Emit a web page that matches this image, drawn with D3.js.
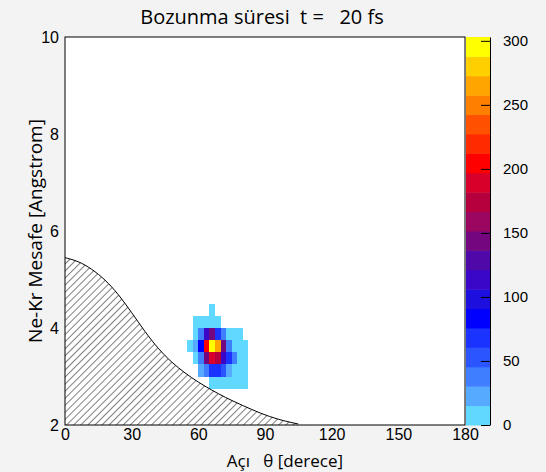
<!DOCTYPE html>
<html><head><meta charset="utf-8">
<script src="https://cdn.jsdelivr.net/npm/d3@7"></script>
<style>body{margin:0;background:#f3f3f3}text{font-family:"Liberation Sans",Arial,sans-serif;white-space:pre}</style>
</head><body><svg width="546" height="472"></svg>
<script>
const svg = d3.select('svg');
const W = 546, H = 472;
const margin = {top: 37, right: 81, bottom: 47, left: 65};
const innerWidth = W - margin.left - margin.right;
const innerHeight = H - margin.top - margin.bottom;

// histogram bins: 2.5 deg x 0.25 A
const xBinStart = 55, xBinW = 2.5;
const yBinTops = [4.5, 4.25, 4.0, 3.75, 3.5, 3.25, 3.0];
const yBinH = 0.25;
const counts = [
  [0, 0, 0, 0, 8, 0, 0, 0, 0, 0, 0],
  [0, 8, 8, 8, 8, 8, 0, 0, 0, 0, 0],
  [0, 8, 38, 113, 150, 68, 38, 8, 8, 8, 0],
  [8, 22, 83, 205, 300, 265, 150, 38, 8, 8, 8],
  [0, 8, 38, 150, 190, 180, 113, 68, 38, 8, 8],
  [0, 0, 22, 38, 68, 68, 53, 22, 8, 8, 8],
  [0, 0, 0, 0, 8, 8, 8, 8, 8, 8, 8]
];
// forbidden-region boundary
const edgeX = [0, 6, 12, 18, 24, 30, 36, 42, 48, 54, 60, 66, 72, 80, 88, 96, 105];
const edgeY = [5.45, 5.38, 5.22, 5.0, 4.7, 4.32, 3.92, 3.57, 3.29, 3.07, 2.88, 2.72, 2.57, 2.4, 2.24, 2.11, 2.02];
const palette = ['#61d8ff','#56aaff','#3f7fff','#2a55ff','#1a33ff','#0000ff','#1d0fdd','#3a06c8','#4f09a8','#74077f',
  '#9b0660','#b5003d','#d8002a','#ff0000','#ff2a00','#ff5100','#ff7f00','#ffa500','#ffcf00','#ffff00'];
const zMax = 303;
const zTicks = [0, 50, 100, 150, 200, 250, 300];
const xTicks = [0, 30, 60, 90, 120, 150, 180];
const yTicks = [2, 4, 6, 8, 10];

const x = d3.scaleLinear().domain([0, 180]).range([0, innerWidth]);
const y = d3.scaleLinear().domain([2, 10]).range([innerHeight, 0]);
const z = d3.scaleQuantize().domain([0, zMax]).range(palette);

const defs = svg.append('defs');
defs.append('pattern').attr('id', 'hatch').attr('patternUnits', 'userSpaceOnUse')
  .attr('width', 5).attr('height', 5).attr('patternTransform', 'rotate(45)')
  .append('line').attr('x1', 0).attr('y1', 0).attr('x2', 0).attr('y2', 5)
  .attr('stroke', '#000').attr('stroke-width', 1);

const g = svg.append('g').attr('transform', `translate(${margin.left},${margin.top})`);
g.append('rect').attr('width', innerWidth).attr('height', innerHeight).attr('fill', '#fff');

const cells = [];
counts.forEach((row, r) => row.forEach((v, c) => { if (v > 0) cells.push({r, c, v}); }));
g.selectAll('rect.cell').data(cells).enter().append('rect')
  .attr('x', d => x(xBinStart + d.c * xBinW))
  .attr('y', d => y(yBinTops[d.r]))
  .attr('width', x(xBinW) - x(0))
  .attr('height', y(0) - y(yBinH))
  .attr('fill', d => z(d.v))
  .attr('shape-rendering', 'crispEdges');

const pts = edgeX.map((v, i) => [v, edgeY[i]]);
const area = d3.area().x(d => x(d[0])).y0(y(2)).y1(d => y(d[1])).curve(d3.curveBasis);
g.append('path').datum(pts).attr('d', area).attr('fill', 'url(#hatch)');
g.append('path').datum(pts).attr('d', d3.line().x(d => x(d[0])).y(d => y(d[1])).curve(d3.curveBasis))
  .attr('fill', 'none').attr('stroke', '#000').attr('stroke-width', 1);

g.append('rect').attr('width', innerWidth).attr('height', innerHeight)
  .attr('fill', 'none').attr('stroke', '#000');

const xAxisG = g.append('g').attr('transform', `translate(0,${innerHeight})`)
  .call(d3.axisBottom(x).tickValues(xTicks).tickSize(0).tickPadding(4));
const yAxisG = g.append('g')
  .call(d3.axisLeft(y).tickValues(yTicks).tickSize(0).tickPadding(6));
[xAxisG, yAxisG].forEach(a => {
  a.select('.domain').remove();
  a.selectAll('text').attr('font-size', 16).attr('fill', '#000');
});

// colour bar
const cb = svg.append('g').attr('transform', `translate(${margin.left + innerWidth + 1},${margin.top})`);
const zs = d3.scaleLinear().domain([0, zMax]).range([innerHeight, 0]);
const step = zMax / palette.length;
cb.selectAll('rect').data(palette).enter().append('rect')
  .attr('x', 0).attr('width', 24)
  .attr('y', (d, i) => zs((i + 1) * step)).attr('height', zs(0) - zs(step) + 0.5)
  .attr('fill', d => d);
const zAxisG = cb.append('g').attr('transform', 'translate(24,0)')
  .call(d3.axisRight(zs).tickValues(zTicks).tickSize(-9).tickPadding(4).tickSizeOuter(0));
zAxisG.selectAll('text').attr('font-size', 15).attr('dx', 9).attr('fill', '#000');
zAxisG.selectAll('line').attr('stroke', '#000');
zAxisG.select('.domain').attr('stroke', '#000');

const titleFont = '"Open Sans", sans-serif';
svg.append('text').attr('x', 262).attr('y', 24).attr('text-anchor', 'middle')
  .style('font-size', '20px').style('font-family', titleFont)
  .text('Bozunma süresi  t =   20 fs');
svg.append('text').attr('transform', 'rotate(-90)').attr('x', -(margin.top + innerHeight / 2)).attr('y', 42)
  .attr('text-anchor', 'middle').style('font-size', '19px').style('font-family', titleFont)
  .text('Ne-Kr Mesafe [Angstrom]');
svg.append('text').attr('x', 343).attr('y', 467).attr('text-anchor', 'end')
  .style('font-size', '17px').style('font-family', titleFont)
  .text('Açı   θ [derece]');
</script></body></html>
